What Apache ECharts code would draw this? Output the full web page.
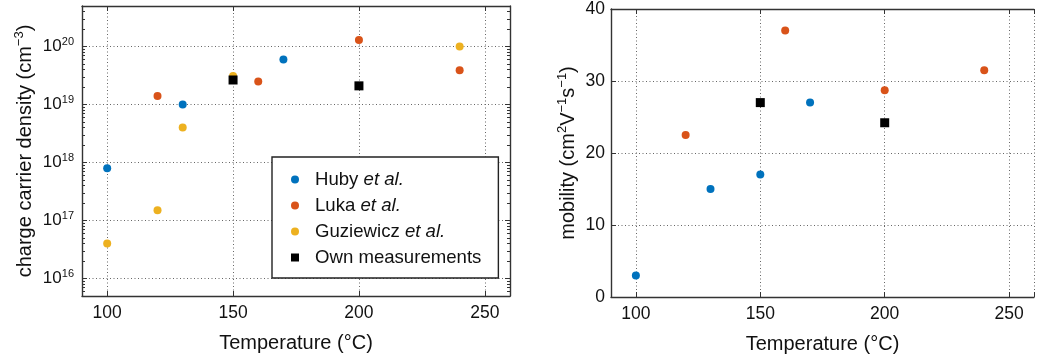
<!DOCTYPE html>
<html>
<head>
<meta charset="utf-8">
<script src="https://cdn.jsdelivr.net/npm/echarts@6/dist/echarts.min.js"></script>
<style>
html,body{margin:0;padding:0;background:#fff;}
#c{width:1037px;height:360px;}
</style>
</head>
<body>
<div id="c"></div>
<script>
// ---- data ----
const xTickLabels = [100, 150, 200, 250];
const densityDecades = [16, 17, 18, 19, 20];
const mobilityTicks = [0, 10, 20, 30, 40];

const seriesNames = ['Huby et al.', 'Luka et al.', 'Guziewicz et al.', 'Own measurements'];

const hubyDensityT = [100, 130, 170];
const hubyDensity = [8e17, 1e19, 6e19];
const lukaDensityT = [120, 160, 200, 240];
const lukaDensity = [1.4e19, 2.5e19, 1.3e20, 3.9e19];
const guzDensityT = [100, 120, 130, 150, 240];
const guzDensity = [4e16, 1.5e17, 4e18, 3.1e19, 1e20];
const ownDensityT = [150, 200];
const ownDensity = [2.65e19, 2.1e19];

const hubyMobilityT = [100, 130, 150, 170];
const hubyMobility = [3, 15, 17, 27];
const lukaMobilityT = [120, 160, 200, 240];
const lukaMobility = [22.5, 37, 28.7, 31.5];
const ownMobilityT = [150, 200];
const ownMobility = [27, 24.2];

// ---- styling ----
const FONT = '"Liberation Sans", Arial, Helvetica, sans-serif';
const colors = ['#0072BD', '#D95319', '#EDB120', '#000000'];
const axisColor = '#333';
const gridLine = { show: true, lineStyle: { color: '#666', width: 1, type: [1, 2.5] } };

function pairs(xs, ys) { return xs.map((x, i) => [x, ys[i]]); }

const chart = echarts.init(document.getElementById('c'), null, { renderer: 'canvas' });

function xAxisBase(gridIndex, isTop) {
  return {
    type: 'value', gridIndex: gridIndex, min: 90, max: 260, splitNumber: 3,
    position: isTop ? 'top' : 'bottom',
    axisLine: { show: true, onZero: false, lineStyle: { color: axisColor, width: 1.4 } },
    axisTick: { show: true, inside: true, length: 5, lineStyle: { color: axisColor } },
    axisLabel: isTop ? { show: false } : {
      show: true, margin: 8, color: '#111', fontSize: 17.5, fontFamily: FONT,
      formatter: v => xTickLabels.indexOf(v) >= 0 ? String(v) : ''
    },
    splitLine: isTop ? { show: false } : gridLine,
    name: isTop ? '' : 'Temperature (°C)',
    nameLocation: 'middle', nameGap: 37,
    nameTextStyle: { color: '#111', fontSize: 20, fontFamily: FONT }
  };
}

const supRich = {
  n: { fontSize: 20, fontFamily: FONT, color: '#111', lineHeight: 24 },
  s: { fontSize: 13, fontFamily: FONT, color: '#111', verticalAlign: 'top', lineHeight: 24, padding: [0, 0, 10, 0] }
};

const option = {
  animation: false,
  backgroundColor: '#fff',
  textStyle: { fontFamily: FONT },
  grid: [
    { left: 82, top: 6, width: 428, height: 290, show: false },
    { left: 611, top: 7, width: 434, height: 290, show: false }
  ],
  xAxis: [
    xAxisBase(0, false), xAxisBase(0, true),
    xAxisBase(1, false), xAxisBase(1, true)
  ],
  yAxis: [
    {
      type: 'log', gridIndex: 0, min: 5e15, max: 5e20, logBase: 10,
      axisLine: { show: true, onZero: false, lineStyle: { color: axisColor, width: 1.4 } },
      axisTick: { show: true, inside: true, length: 5, lineStyle: { color: axisColor } },
      minorTick: { show: true, splitNumber: 9, length: 3, lineStyle: { color: axisColor } },
      splitLine: gridLine,
      axisLabel: {
        margin: 8, color: '#111', fontFamily: FONT,
        formatter: v => {
          const e = Math.round(Math.log10(v));
          if (Math.abs(Math.log10(v) - e) > 1e-6 || densityDecades.indexOf(e) < 0) return '';
          return '{b|10}{s|' + e + '}';
        },
        rich: {
          b: { fontSize: 17, fontFamily: FONT, color: '#111', lineHeight: 20 },
          s: { fontSize: 11, fontFamily: FONT, color: '#111', verticalAlign: 'top', lineHeight: 20, padding: [0, 0, 8, 0] }
        }
      },
      name: '{n|charge carrier density (cm}{s|−3}{n|)}',
      nameLocation: 'middle', nameGap: 45, nameRotate: 90,
      nameTextStyle: { rich: supRich }
    },
    {
      type: 'log', gridIndex: 0, min: 5e15, max: 5e20, logBase: 10, position: 'right',
      axisLine: { show: true, onZero: false, lineStyle: { color: axisColor, width: 1.4 } },
      axisTick: { show: true, inside: true, length: 5, lineStyle: { color: axisColor } },
      minorTick: { show: true, splitNumber: 9, length: 3, lineStyle: { color: axisColor } },
      splitLine: { show: false },
      axisLabel: { show: false }
    },
    {
      type: 'value', gridIndex: 1, min: 0, max: 40, interval: 10,
      axisLine: { show: true, onZero: false, lineStyle: { color: axisColor, width: 1.4 } },
      axisTick: { show: true, inside: true, length: 5, lineStyle: { color: axisColor } },
      splitLine: gridLine,
      axisLabel: {
        margin: 6, color: '#111', fontSize: 17.5, fontFamily: FONT,
        formatter: v => mobilityTicks.indexOf(v) >= 0 ? String(v) : ''
      },
      name: '{n|mobility (cm}{s|2}{n|V}{s|−1}{n|s}{s|−1}{n|)}',
      nameLocation: 'middle', nameGap: 31, nameRotate: 90,
      nameTextStyle: { rich: supRich }
    }
  ],
  legend: {
    left: 272, top: 157, orient: 'vertical',
    padding: [13, 17, 11, 19], itemGap: 7, itemWidth: 8, itemHeight: 8,
    borderColor: '#222', borderWidth: 1.4, backgroundColor: '#fff',
    data: [
      { name: seriesNames[0], icon: 'circle' },
      { name: seriesNames[1], icon: 'circle' },
      { name: seriesNames[2], icon: 'circle' },
      { name: seriesNames[3], icon: 'rect' }
    ],
    formatter: name => {
      const idx = name.indexOf(' et al.');
      if (idx >= 0) return '{sp|}{n|' + name.slice(0, idx) + ' }{i|et al.}';
      return '{sp|}{n|' + name + '}';
    },
    textStyle: {
      fontSize: 18.6, fontFamily: FONT, color: '#111',
      rich: {
        sp: { width: 11, lineHeight: 16 },
        n: { fontSize: 18.6, fontFamily: FONT, color: '#111', lineHeight: 16 },
        i: { fontSize: 18.6, fontFamily: FONT, color: '#111', fontStyle: 'italic', lineHeight: 16 }
      }
    }
  },
  series: [
    { name: seriesNames[0], type: 'scatter', xAxisIndex: 0, yAxisIndex: 0, symbol: 'circle', symbolSize: 8,
      itemStyle: { color: colors[0], opacity: 1 }, data: pairs(hubyDensityT, hubyDensity) },
    { name: seriesNames[1], type: 'scatter', xAxisIndex: 0, yAxisIndex: 0, symbol: 'circle', symbolSize: 8,
      itemStyle: { color: colors[1], opacity: 1 }, data: pairs(lukaDensityT, lukaDensity) },
    { name: seriesNames[2], type: 'scatter', xAxisIndex: 0, yAxisIndex: 0, symbol: 'circle', symbolSize: 8,
      itemStyle: { color: colors[2], opacity: 1 }, data: pairs(guzDensityT, guzDensity) },
    { name: seriesNames[3], type: 'scatter', xAxisIndex: 0, yAxisIndex: 0, symbol: 'rect', symbolSize: 9,
      itemStyle: { color: colors[3], opacity: 1 }, data: pairs(ownDensityT, ownDensity) },

    { name: seriesNames[0], type: 'scatter', xAxisIndex: 2, yAxisIndex: 2, symbol: 'circle', symbolSize: 8,
      itemStyle: { color: colors[0], opacity: 1 }, data: pairs(hubyMobilityT, hubyMobility) },
    { name: seriesNames[1], type: 'scatter', xAxisIndex: 2, yAxisIndex: 2, symbol: 'circle', symbolSize: 8,
      itemStyle: { color: colors[1], opacity: 1 }, data: pairs(lukaMobilityT, lukaMobility) },
    { name: seriesNames[3], type: 'scatter', xAxisIndex: 2, yAxisIndex: 2, symbol: 'rect', symbolSize: 9,
      itemStyle: { color: colors[3], opacity: 1 }, data: pairs(ownMobilityT, ownMobility) }
  ]
};
chart.setOption(option);
</script>
</body>
</html>
